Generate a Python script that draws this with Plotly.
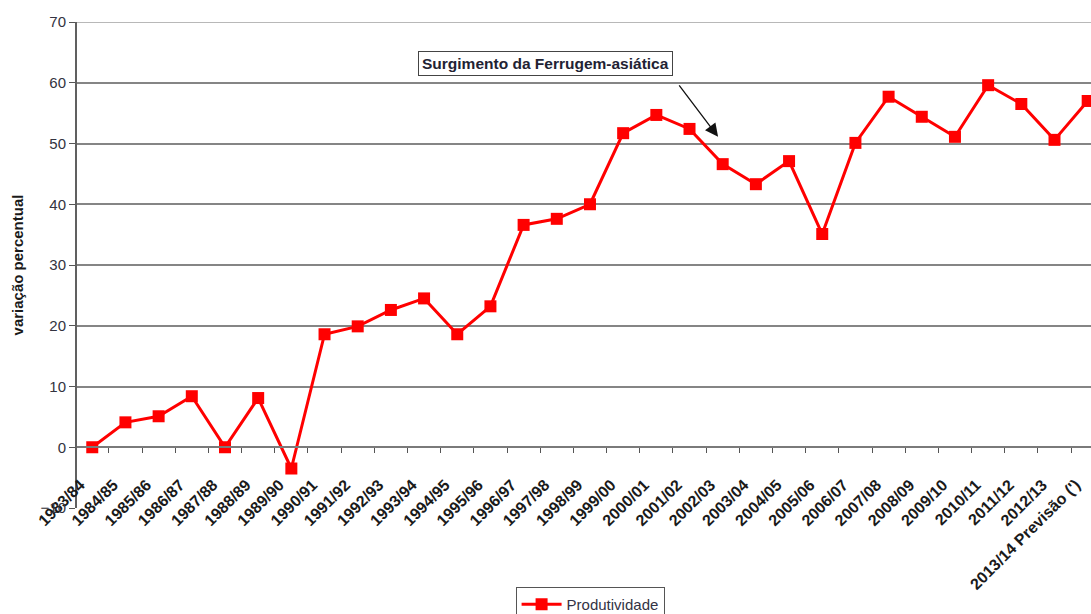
import plotly.graph_objects as go

safras = ["1983/84", "1984/85", "1985/86", "1986/87", "1987/88", "1988/89", "1989/90",
          "1990/91", "1991/92", "1992/93", "1993/94", "1994/95", "1995/96", "1996/97",
          "1997/98", "1998/99", "1999/00", "2000/01", "2001/02", "2002/03", "2003/04",
          "2004/05", "2005/06", "2006/07", "2007/08", "2008/09", "2009/10", "2010/11",
          "2011/12", "2012/13", "2013/14 Previsão (')"]
produtividade = [0, 4.1, 5.1, 8.4, 0, 8.1, -3.5, 18.6, 19.9, 22.6, 24.5, 18.6, 23.2, 36.6,
                 37.6, 40.0, 51.7, 54.7, 52.4, 46.6, 43.3, 47.1, 35.1, 50.1, 57.7, 54.4,
                 51.1, 59.6, 56.5, 50.6, 57.0]
y_ticks = [-10, 0, 10, 20, 30, 40, 50, 60, 70]

FONT = "Liberation Sans, Arial, sans-serif"

fig = go.Figure()
fig.add_trace(go.Scatter(
    x=safras, y=produtividade, mode="lines+markers", name="Produtividade",
    line=dict(color="#ff0000", width=3),
    marker=dict(symbol="square", size=12, color="#ff0000"),
    cliponaxis=False,
))

fig.update_layout(
    width=1091, height=614,
    margin=dict(l=77, r=0, t=22, b=106, autoexpand=False),
    plot_bgcolor="white", paper_bgcolor="white",
    font=dict(family=FONT, color="#222222"),
    showlegend=True,
    legend=dict(x=0.506, y=-(587 - 508) / 486, xanchor="center", yanchor="top",
                bordercolor="#555555", borderwidth=1, bgcolor="white",
                font=dict(size=15, color="#333344"), itemwidth=40),
    xaxis=dict(
        type="category", range=[-0.46, 30.1],
        anchor="free", position=0.125,
        showline=True, linecolor="#7a7a7a", linewidth=2,
        ticks="outside", tickson="boundaries", ticklen=5, tickcolor="#555555",
        tickangle=-45, tickfont=dict(size=16, color="#1a1a1a", family=FONT),
        ticklabelstandoff=21, ticklabelshift=-12,
        showgrid=False, automargin=False,
    ),
    yaxis=dict(
        range=[y_ticks[0], y_ticks[-1]], tickvals=y_ticks,
        showline=True, linecolor="#606060", linewidth=2,
        ticks="outside", ticklen=6, tickcolor="#555555",
        gridcolor="#858585", gridwidth=2, zeroline=False,
        tickfont=dict(size=15, color="#333340"),
        title=dict(text="<b>variação percentual</b>", font=dict(size=15, color="#1a1a1a"), standoff=13),
        automargin=False,
    ),
)
fig.update_yaxes(tickprefix="<b>", ticksuffix="</b>")
fig.update_xaxes(tickprefix="<b>", ticksuffix="</b>")

# thin top border line of the plot area (at the 70 level)
fig.add_shape(type="line", xref="paper", yref="y", x0=0, x1=1,
              y0=y_ticks[-1], y1=y_ticks[-1], line=dict(color="#a0a0a0", width=1.5), layer="below")

fig.add_annotation(
    x=(545 - 77) / 1014, y=1 - (63.5 - 22) / 486, xref="paper", yref="paper",
    xanchor="center", yanchor="middle",
    text="<b>Surgimento da Ferrugem-asiática</b>", showarrow=False,
    font=dict(size=15.5, color="#222233", family=FONT),
    bordercolor="#444444", borderwidth=1, borderpad=3, bgcolor="white",
)
fig.add_annotation(
    x=18.86, y=51.1, xref="x", yref="y", text="",
    showarrow=True, ax=-40, ay=-53, arrowhead=2, arrowsize=2, arrowwidth=1.3,
    arrowcolor="#111111",
)
fig.write_html("out.html", config={"displayModeBar": False},
               post_script="document.body.style.margin='0';document.body.style.overflow='hidden';")
